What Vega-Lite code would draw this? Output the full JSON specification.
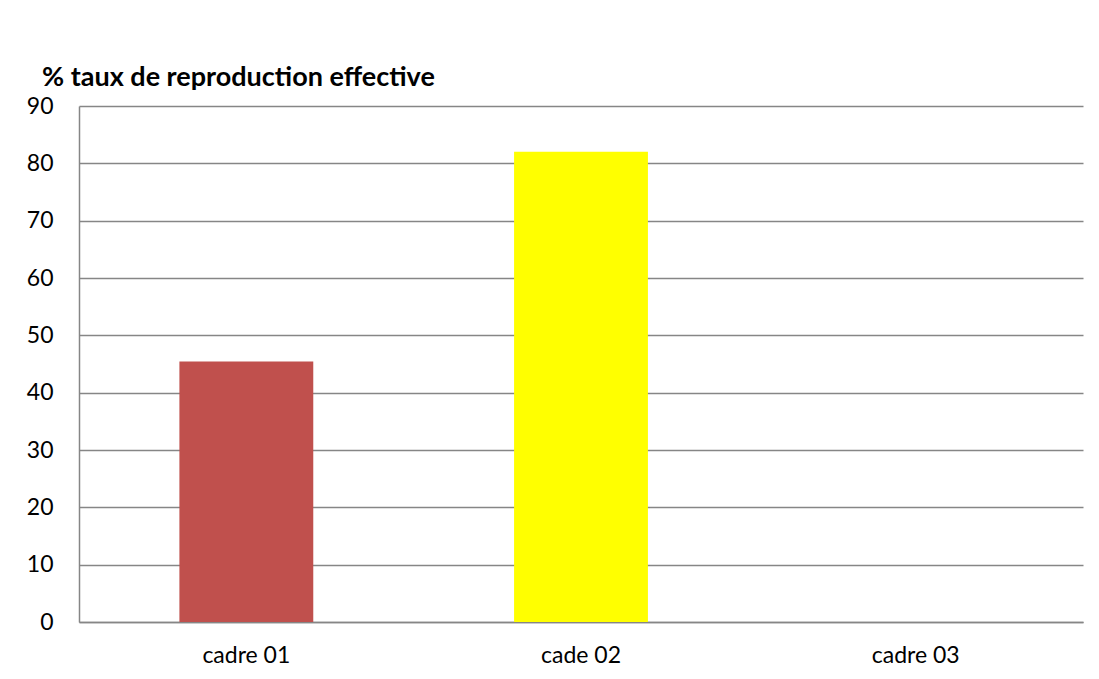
{
  "$schema": "https://vega.github.io/schema/vega-lite/v6.json",
  "width": 1004,
  "height": 516,
  "autosize": {"type": "none"},
  "padding": {"left": 79, "top": 106, "right": 16, "bottom": 57},
  "background": "white",
  "title": {
    "text": "% taux de reproduction effective",
    "anchor": "start",
    "frame": "group",
    "dx": -37,
    "offset": 3,
    "font": "Lato",
    "fontSize": 27,
    "fontWeight": "bold",
    "color": "black"
  },
  "data": {
    "values": [
      {"cadre": "cadre 01", "taux": 45.45},
      {"cadre": "cade 02", "taux": 82},
      {"cadre": "cadre 03", "taux": 0}
    ]
  },
  "mark": {"type": "bar"},
  "encoding": {
    "x": {
      "field": "cadre",
      "type": "nominal",
      "sort": null,
      "scale": {"paddingInner": 0.6, "paddingOuter": 0.3},
      "axis": {
        "title": null,
        "labelAngle": 0,
        "ticks": false,
        "labelPadding": 22,
        "labelFont": "Lato",
        "labelFontSize": 23,
        "labelColor": "black",
        "domainColor": "#868686",
        "domainWidth": 1.5,
        "grid": false
      }
    },
    "y": {
      "field": "taux",
      "type": "quantitative",
      "scale": {"domain": [0, 90], "nice": false},
      "axis": {
        "title": null,
        "values": [0, 10, 20, 30, 40, 50, 60, 70, 80, 90],
        "ticks": false,
        "labelPadding": 26,
        "labelFont": "Lato",
        "labelFontSize": 23,
        "labelColor": "black",
        "domainColor": "#868686",
        "domainWidth": 1.5,
        "gridColor": "#868686",
        "gridWidth": 1.5,
        "gridOpacity": 1
      }
    },
    "color": {
      "field": "cadre",
      "type": "nominal",
      "scale": {
        "domain": ["cadre 01", "cade 02", "cadre 03"],
        "range": ["#C0504D", "#FFFF00", "#9BBB59"]
      },
      "legend": null
    }
  },
  "config": {
    "view": {"stroke": null}
  }
}
